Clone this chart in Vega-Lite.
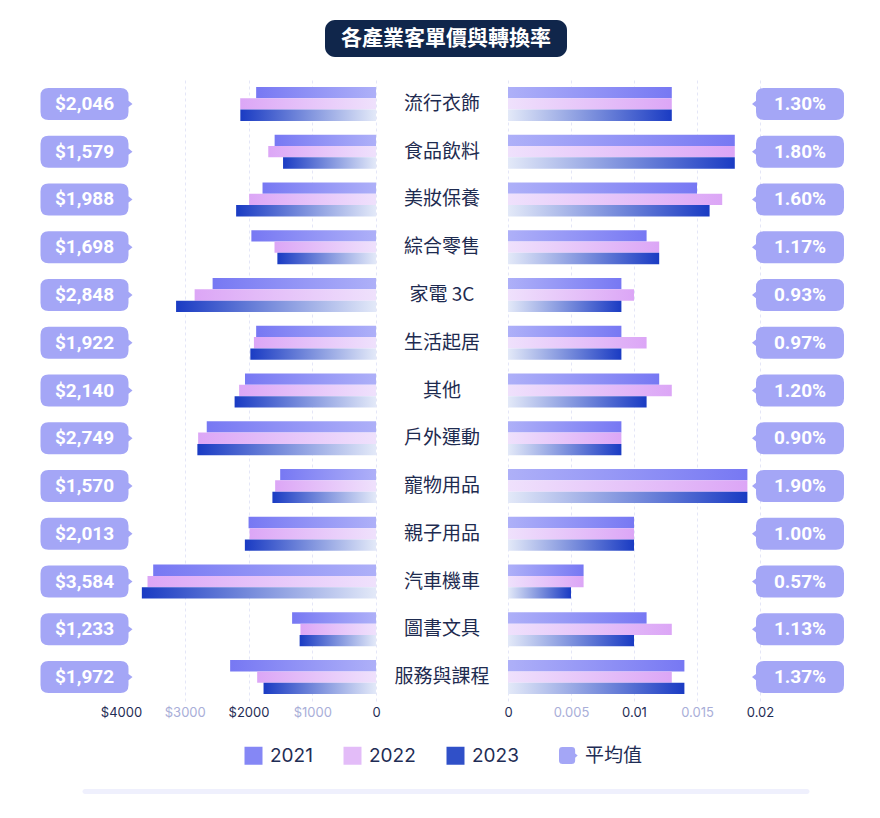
{
  "$schema": "https://vega.github.io/schema/vega-lite/v6.json",
  "background": "white",
  "padding": {"left": 40, "top": 20, "right": 10, "bottom": 10},
  "datasets": {
    "years": [
      {"category": "流行衣飾", "year": "2021", "price": 1880, "rate": 0.013},
      {"category": "流行衣飾", "year": "2022", "price": 2130, "rate": 0.013},
      {"category": "流行衣飾", "year": "2023", "price": 2128, "rate": 0.013},
      {"category": "食品飲料", "year": "2021", "price": 1590, "rate": 0.018},
      {"category": "食品飲料", "year": "2022", "price": 1690, "rate": 0.018},
      {"category": "食品飲料", "year": "2023", "price": 1458, "rate": 0.018},
      {"category": "美妝保養", "year": "2021", "price": 1780, "rate": 0.015},
      {"category": "美妝保養", "year": "2022", "price": 1990, "rate": 0.017},
      {"category": "美妝保養", "year": "2023", "price": 2194, "rate": 0.016},
      {"category": "綜合零售", "year": "2021", "price": 1955, "rate": 0.011},
      {"category": "綜合零售", "year": "2022", "price": 1592, "rate": 0.012},
      {"category": "綜合零售", "year": "2023", "price": 1547, "rate": 0.012},
      {"category": "家電 3C", "year": "2021", "price": 2563, "rate": 0.009},
      {"category": "家電 3C", "year": "2022", "price": 2845, "rate": 0.010},
      {"category": "家電 3C", "year": "2023", "price": 3136, "rate": 0.009},
      {"category": "生活起居", "year": "2021", "price": 1880, "rate": 0.009},
      {"category": "生活起居", "year": "2022", "price": 1915, "rate": 0.011},
      {"category": "生活起居", "year": "2023", "price": 1971, "rate": 0.009},
      {"category": "其他", "year": "2021", "price": 2055, "rate": 0.012},
      {"category": "其他", "year": "2022", "price": 2147, "rate": 0.013},
      {"category": "其他", "year": "2023", "price": 2218, "rate": 0.011},
      {"category": "戶外運動", "year": "2021", "price": 2655, "rate": 0.009},
      {"category": "戶外運動", "year": "2022", "price": 2790, "rate": 0.009},
      {"category": "戶外運動", "year": "2023", "price": 2802, "rate": 0.009},
      {"category": "寵物用品", "year": "2021", "price": 1503, "rate": 0.019},
      {"category": "寵物用品", "year": "2022", "price": 1582, "rate": 0.019},
      {"category": "寵物用品", "year": "2023", "price": 1625, "rate": 0.019},
      {"category": "親子用品", "year": "2021", "price": 1999, "rate": 0.010},
      {"category": "親子用品", "year": "2022", "price": 1983, "rate": 0.010},
      {"category": "親子用品", "year": "2023", "price": 2057, "rate": 0.010},
      {"category": "汽車機車", "year": "2021", "price": 3495, "rate": 0.006},
      {"category": "汽車機車", "year": "2022", "price": 3584, "rate": 0.006},
      {"category": "汽車機車", "year": "2023", "price": 3673, "rate": 0.005},
      {"category": "圖書文具", "year": "2021", "price": 1316, "rate": 0.011},
      {"category": "圖書文具", "year": "2022", "price": 1185, "rate": 0.013},
      {"category": "圖書文具", "year": "2023", "price": 1198, "rate": 0.010},
      {"category": "服務與課程", "year": "2021", "price": 2288, "rate": 0.014},
      {"category": "服務與課程", "year": "2022", "price": 1864, "rate": 0.013},
      {"category": "服務與課程", "year": "2023", "price": 1764, "rate": 0.014}
    ],
    "avg": [
      {"category": "流行衣飾", "price": 2046, "rate": 0.013},
      {"category": "食品飲料", "price": 1579, "rate": 0.018},
      {"category": "美妝保養", "price": 1988, "rate": 0.016},
      {"category": "綜合零售", "price": 1698, "rate": 0.0117},
      {"category": "家電 3C", "price": 2848, "rate": 0.0093},
      {"category": "生活起居", "price": 1922, "rate": 0.0097},
      {"category": "其他", "price": 2140, "rate": 0.012},
      {"category": "戶外運動", "price": 2749, "rate": 0.009},
      {"category": "寵物用品", "price": 1570, "rate": 0.019},
      {"category": "親子用品", "price": 2013, "rate": 0.010},
      {"category": "汽車機車", "price": 3584, "rate": 0.0057},
      {"category": "圖書文具", "price": 1233, "rate": 0.0113},
      {"category": "服務與課程", "price": 1972, "rate": 0.0137}
    ]
  },
  "spacing": 23,
  "center": true,
  "vconcat": [
    {
      "width": 242,
      "height": 37,
      "view": {"fill": "#10264b", "cornerRadius": 10, "stroke": null},
      "data": {"values": [{"t": "各產業客單價與轉換率"}]},
      "mark": {"type": "text", "font": "Noto Sans CJK TC", "fontSize": 21, "fontWeight": "bold", "color": "white"},
      "encoding": {"text": {"field": "t"}}
    },
    {
      "spacing": 69,
      "center": true,
      "vconcat": [
        {
          "spacing": 0,
          "bounds": "flush",
          "hconcat": [
            {
              "width": 73,
              "height": 621,
              "data": {"name": "avg"},
              "encoding": {
                "y": {"field": "category", "type": "nominal", "sort": null, "axis": null, "scale": {"paddingInner": 0.288, "paddingOuter": 0.144}}
              },
              "layer": [
                {
                  "mark": {"type": "point", "shape": "M-2.25,-1L2.25,-1Q2.75,-1 2.75,-0.5L2.75,-0.2L3,0L2.75,0.2L2.75,0.5Q2.75,1 2.25,1L-2.25,1Q-2.75,1 -2.75,0.5L-2.75,-0.5Q-2.75,-1 -2.25,-1Z", "size": 1024, "filled": true, "opacity": 1, "strokeWidth": 0},
                  "encoding": {
                    "fill": {
                      "datum": "平均值", "type": "nominal",
                      "scale": {"range": ["#a4a6f6"]},
                      "legend": {
                        "title": null, "orient": "none", "legendX": 510, "legendY": 726,
                        "symbolType": "M-0.6,-1L0.5,-1Q0.9,-1 0.9,-0.6L0.9,-0.25L1.2,0L0.9,0.25L0.9,0.6Q0.9,1 0.5,1L-0.6,1Q-1,1 -1,0.6L-1,-0.6Q-1,-1 -0.6,-1Z",
                        "symbolSize": 289, "symbolOpacity": 1, "symbolStrokeWidth": 0,
                        "labelFont": "Noto Sans CJK TC", "labelFontSize": 19, "labelColor": "#1f2d55", "labelOffset": 8
                      }
                    }
                  }
                },
                {
                  "mark": {"type": "text", "font": "Roboto", "fontWeight": "bold", "fontSize": 19, "color": "white"},
                  "encoding": {"text": {"field": "price", "type": "quantitative", "format": "$,.0f"}}
                }
              ]
            },
            {
              "width": 255,
              "height": 621,
              "data": {"name": "years"},
              "encoding": {
                "y": {"field": "category", "type": "nominal", "sort": null, "axis": null, "scale": {"paddingInner": 0.288, "paddingOuter": 0.144}},
                "yOffset": {"field": "year", "type": "nominal", "sort": null},
                "x": {
                  "field": "price", "type": "quantitative",
                  "scale": {"domain": [0, 4000], "reverse": true, "nice": false},
                  "axis": {
                    "title": null, "values": [0, 1000, 2000, 3000, 4000],
                    "labelExpr": "datum.value === 0 ? '0' : '$' + datum.value",
                    "gridOpacity": {"condition": {"test": "datum.value === 4000", "value": 0}, "value": 1}
                  }
                }
              },
              "layer": [
                {
                  "mark": {"type": "bar", "strokeWidth": 0},
                  "encoding": {
                    "fill": {
                      "condition": [
                        {"test": "datum.year === '2021'", "value": {"gradient": "linear", "x1": 0, "y1": 0, "x2": 1, "y2": 0, "stops": [{"offset": 0, "color": "#7778f3"}, {"offset": 1, "color": "#aeb0f8"}]}},
                        {"test": "datum.year === '2022'", "value": {"gradient": "linear", "x1": 0, "y1": 0, "x2": 1, "y2": 0, "stops": [{"offset": 0, "color": "#dca6f6"}, {"offset": 1, "color": "#efe1fc"}]}}
                      ],
                      "value": {"gradient": "linear", "x1": 0, "y1": 0, "x2": 1, "y2": 0, "stops": [{"offset": 0, "color": "#1a3bc3"}, {"offset": 1, "color": "#e3e9f8"}]}
                    }
                  }
                },
                {
                  "mark": {"type": "bar", "opacity": 0, "strokeWidth": 0},
                  "encoding": {
                    "color": {
                      "field": "year", "type": "nominal",
                      "scale": {"range": ["#8587f5", "#e3bcf8", "#3050c8"]},
                      "legend": {
                        "title": null, "orient": "none", "legendX": 196, "legendY": 726, "direction": "horizontal",
                        "symbolType": "square", "symbolSize": 324, "symbolOpacity": 1, "symbolStrokeWidth": 0,
                        "columnPadding": 30, "labelOffset": 7,
                        "labelFont": "Inter", "labelFontSize": 19, "labelColor": "#1f2d55"
                      }
                    }
                  }
                }
              ]
            },
            {
              "width": 132,
              "height": 621,
              "data": {"name": "avg"},
              "mark": {"type": "text", "font": "Noto Sans CJK TC", "fontSize": 19, "color": "#1e2b50"},
              "encoding": {
                "y": {"field": "category", "type": "nominal", "sort": null, "axis": null, "scale": {"paddingInner": 0.288, "paddingOuter": 0.144}},
                "text": {"field": "category"}
              }
            },
            {
              "width": 252,
              "height": 621,
              "data": {"name": "years"},
              "mark": {"type": "bar", "strokeWidth": 0},
              "encoding": {
                "y": {"field": "category", "type": "nominal", "sort": null, "axis": null, "scale": {"paddingInner": 0.288, "paddingOuter": 0.144}},
                "yOffset": {"field": "year", "type": "nominal", "sort": null},
                "x": {
                  "field": "rate", "type": "quantitative",
                  "scale": {"domain": [0, 0.02], "nice": false},
                  "axis": {"title": null, "values": [0, 0.005, 0.01, 0.015, 0.02], "format": "~g"}
                },
                "fill": {
                  "condition": [
                    {"test": "datum.year === '2021'", "value": {"gradient": "linear", "x1": 0, "y1": 0, "x2": 1, "y2": 0, "stops": [{"offset": 0, "color": "#aeb0f8"}, {"offset": 1, "color": "#7778f3"}]}},
                    {"test": "datum.year === '2022'", "value": {"gradient": "linear", "x1": 0, "y1": 0, "x2": 1, "y2": 0, "stops": [{"offset": 0, "color": "#efe1fc"}, {"offset": 1, "color": "#dca6f6"}]}}
                  ],
                  "value": {"gradient": "linear", "x1": 0, "y1": 0, "x2": 1, "y2": 0, "stops": [{"offset": 0, "color": "#e3e9f8"}, {"offset": 1, "color": "#1a3bc3"}]}
                }
              }
            },
            {
              "width": 80,
              "height": 621,
              "data": {"name": "avg"},
              "encoding": {
                "y": {"field": "category", "type": "nominal", "sort": null, "axis": null, "scale": {"paddingInner": 0.288, "paddingOuter": 0.144}}
              },
              "layer": [
                {
                  "mark": {"type": "point", "shape": "M2.25,-1L-2.25,-1Q-2.75,-1 -2.75,-0.5L-2.75,-0.2L-3,0L-2.75,0.2L-2.75,0.5Q-2.75,1 -2.25,1L2.25,1Q2.75,1 2.75,0.5L2.75,-0.5Q2.75,-1 2.25,-1Z", "size": 1024, "filled": true, "opacity": 1, "strokeWidth": 0},
                  "encoding": {
                    "fill": {
                      "datum": "平均值", "type": "nominal",
                      "scale": {"range": ["#a4a6f6"]},
                      "legend": {
                        "title": null, "orient": "none", "legendX": 510, "legendY": 726,
                        "symbolType": "M-0.6,-1L0.5,-1Q0.9,-1 0.9,-0.6L0.9,-0.25L1.2,0L0.9,0.25L0.9,0.6Q0.9,1 0.5,1L-0.6,1Q-1,1 -1,0.6L-1,-0.6Q-1,-1 -0.6,-1Z",
                        "symbolSize": 289, "symbolOpacity": 1, "symbolStrokeWidth": 0,
                        "labelFont": "Noto Sans CJK TC", "labelFontSize": 19, "labelColor": "#1f2d55", "labelOffset": 8
                      }
                    }
                  }
                },
                {
                  "mark": {"type": "text", "font": "Roboto", "fontWeight": "bold", "fontSize": 19, "color": "white"},
                  "encoding": {"text": {"field": "rate", "type": "quantitative", "format": ".2%"}}
                }
              ]
            }
          ]
        },
        {
          "width": 727,
          "height": 5,
          "view": {"fill": "#eff0fd", "cornerRadius": 3, "stroke": null},
          "data": {"values": [{}]},
          "mark": {"type": "rule", "opacity": 0},
          "encoding": {}
        }
      ]
    }
  ],
  "config": {
    "font": "Inter",
    "view": {"stroke": null},
    "axis": {
      "domain": false,
      "ticks": false,
      "grid": true,
      "gridDash": [3, 3],
      "gridColor": "#e4e6f7",
      "labelFont": "Inter",
      "labelFontSize": 13,
      "labelPadding": 5,
      "labelFlush": false,
      "labelOverlap": false,
      "labelColor": {"condition": {"test": "datum.index === 0.25 || datum.index === 0.75", "value": "#a9aed8"}, "value": "#1f2d55"}
    },
    "legend": {"padding": 0}
  }
}
